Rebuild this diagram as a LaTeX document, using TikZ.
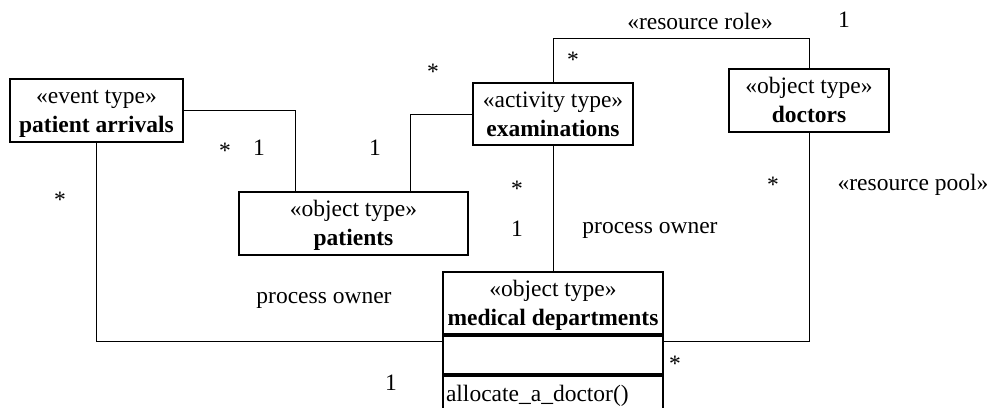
\documentclass[tikz,border=0pt]{standalone}
\usepackage{fontspec}
\setmainfont{Liberation Serif}
% stereotype line and bold class name, with struts fixing the baselines
\newcommand\stereo[1]{\rule{0pt}{21pt}«#1»}
\newcommand\clsname[1]{\textbf{#1}\rule[-6pt]{0pt}{0pt}}
\begin{document}
\begin{tikzpicture}[x=1pt,y=-1pt,
  every node/.style={font=\fontsize{23.5}{29}\selectfont},
  cls/.style={draw, line width=1.8pt, inner sep=0pt, align=center},
  link/.style={line width=1pt},
  lbl/.style={inner sep=0pt},
  mult/.style={inner sep=0pt, yshift=-3pt}]
\useasboundingbox (0,0) rectangle (990,407);
\clip (0,0) rectangle (990,407);

% classes
\node[cls, minimum width=173pt, minimum height=63pt] (arrivals) at (96.5,110.5)
  {\stereo{event type}\\\clsname{patient arrivals}};
\node[cls, minimum width=229pt, minimum height=63pt] (patients) at (353.5,223.5)
  {\stereo{object type}\\\clsname{patients}};
\node[cls, minimum width=160pt, minimum height=62pt] (exams) at (553,114)
  {\stereo{activity type}\\\clsname{examinations}};
\node[cls, minimum width=160pt, minimum height=63pt] (doctors) at (809,100.5)
  {\stereo{object type}\\\clsname{doctors}};

% medical departments: name, attribute and operation compartments
\node[cls, minimum width=220pt, minimum height=62pt] (mdhead) at (553,303)
  {\stereo{object type}\\\clsname{medical departments}};
\node[cls, minimum width=220pt, minimum height=38pt, anchor=north] (mdattr) at (mdhead.south) {};
\node[cls, minimum width=220pt, minimum height=40pt, anchor=north, align=left, text width=214pt]
  (mdops) at (mdattr.south) {allocate\_a\_doctor()};

% associations
\coordinate (roleTop) at (0,38);
\draw[link] (arrivals.east) -| ([xshift=57pt]patients.north west);
\draw[link] ([xshift=172pt]patients.north west) |- (exams.west);
\draw[link] (exams.north) -- (exams.north |- roleTop) -| (doctors.north);
\draw[link] (exams.south) -- (mdhead.north);
\draw[link] (doctors.south) |- ([yshift=-7pt]mdattr.north east);
\draw[link] (arrivals.south) |- ([yshift=-7pt]mdattr.north west);

% association labels and multiplicities
\node[lbl] (lrole) at (700,21) {«resource role»};
\node[lbl] (m1) at (844,20) {1};
\node[mult] (m2) at (573,57) {*};
\node[mult] (m3) at (433,69) {*};
\node[mult] (m4) at (225,148) {*};
\node[lbl] (m5) at (259,148) {1};
\node[lbl] (m6) at (375,148) {1};
\node[mult] (m7) at (60,197) {*};
\node[mult] (m8) at (517,186) {*};
\node[lbl] (m9) at (517,228.5) {1};
\node[lbl] (lown1) at (650,230) {process owner};
\node[lbl] (lown2) at (324,300) {process owner};
\node[mult] (m10) at (773,181.5) {*};
\node[lbl] (lpool) at (913,185) {«resource pool»};
\node[mult] (m11) at (675,361) {*};
\node[lbl] (m12) at (391,382.5) {1};
\end{tikzpicture}
\end{document}
